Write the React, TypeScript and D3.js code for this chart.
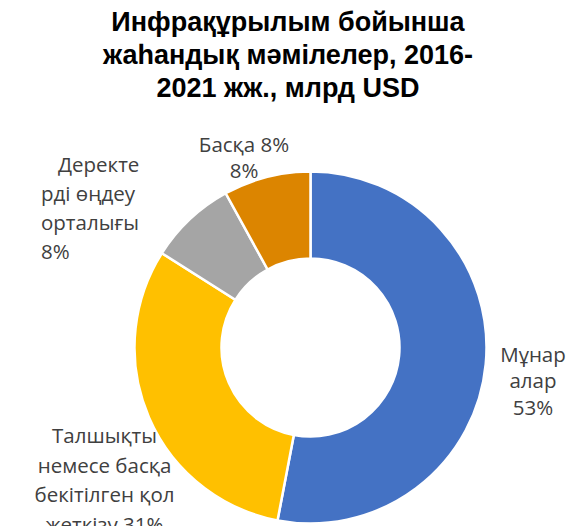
import React from "react";
import * as d3 from "d3";

const categories = ["Мұнаралар", "Талшықты немесе басқа бекітілген қол жеткізу", "Деректерді өңдеу орталығы", "Басқа"];
const values = [53, 31, 8, 8];
const colors = ["#4472C4", "#FFC000", "#A5A5A5", "#DC8500"];
const titleLines = ["Инфрақұрылым бойынша", "жаһандық мәмілелер, 2016-", "2021 жж., млрд USD"];
const labelLines = [
  ["Мұнар", "алар", "53%"],
  ["Талшықты", "немесе басқа", "бекітілген қол", "жеткізу 31%"],
  ["Деректе", "рді өңдеу", "орталығы", "8%"],
  ["Басқа 8%", "8%"],
];

const W = 573, H = 526;
const cx = 310.5, cy = 347.5, rOuter = 176, rInner = 89;

// label layout: anchor x, first baseline y, line height, text-anchor, per-line x override
const labelLayout = [
  { x: 533, y: 362, lh: 26.3, anchor: "middle", xs: null as number[] | null },
  { x: 104.5, y: 443, lh: 29.5, anchor: "middle", xs: null },
  { x: 41, y: 172, lh: 29, anchor: "start", xs: [58, 41, 41, 41] },
  { x: 244, y: 152, lh: 26, anchor: "middle", xs: null },
];

export default function App() {
  const pie = d3.pie<number>().sort(null).value((d) => d);
  const arcs = pie(values);
  const arc = d3.arc<d3.PieArcDatum<number>>().innerRadius(rInner).outerRadius(rOuter);
  const font = "'Open Sans', 'Noto Sans', sans-serif";
  return (
    <svg width={W} height={H} style={{ position: "absolute", left: 0, top: 0, background: "#fff" }}>
      <rect width={W} height={H} fill="#fff" />
      <g fontFamily="'Liberation Sans', Arial, sans-serif" fontWeight="bold" fontSize={27} fill="#000" textAnchor="middle">
        {titleLines.map((t, i) => (
          <text key={i} x={288} y={31 + i * 33}>{t}</text>
        ))}
      </g>
      <g transform={`translate(${cx},${cy})`}>
        {arcs.map((a, i) => (
          <path key={categories[i]} d={arc(a) || ""} fill={colors[i]} stroke="#fff" strokeWidth={2.5} />
        ))}
      </g>
      <g fontFamily={font} fontSize={20.5} fill="#404040">
        {labelLines.map((lines, i) => {
          const L = labelLayout[i];
          return lines.map((t, j) => (
            <text key={`${i}-${j}`} x={L.xs ? L.xs[j] : L.x} y={L.y + j * L.lh} textAnchor={L.anchor}>{t}</text>
          ));
        })}
      </g>
    </svg>
  );
}
